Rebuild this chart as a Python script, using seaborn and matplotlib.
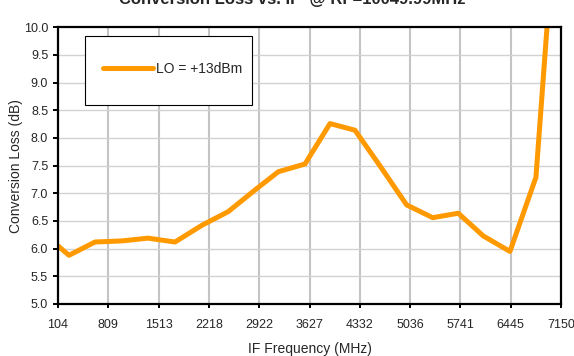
import matplotlib
matplotlib.use("Agg")
import matplotlib.pyplot as plt
from matplotlib.patches import Rectangle
import seaborn as sns
import pandas as pd

# IF frequency sweep (MHz) and measured conversion loss (dB)
if_freq_mhz = [104, 258, 622, 1000, 1365, 1743, 2117, 2490, 2863, 3190, 3564,
               3914, 4264, 4628, 4988, 5353, 5711, 6061, 6435, 6799, 6954]
conv_loss_db = [6.05, 5.88, 6.12, 6.14, 6.19, 6.12, 6.42, 6.67, 7.06, 7.39, 7.53,
                8.26, 8.14, 7.47, 6.79, 6.56, 6.64, 6.23, 5.95, 7.29, 10.0]

x_ticks = [104, 809, 1513, 2218, 2922, 3627, 4332, 5036, 5741, 6445, 7150]
y_ticks = [5.0, 5.5, 6.0, 6.5, 7.0, 7.5, 8.0, 8.5, 9.0, 9.5, 10.0]
series_label = "LO = +13dBm"
title = "Conversion Loss vs. IF  @ RF=10049.99MHz"

sns.set_style("white")
plt.rcParams["font.family"] = ["Liberation Sans", "DejaVu Sans"]

df = pd.DataFrame({"IF": if_freq_mhz, "Loss": conv_loss_db})

fig = plt.figure(figsize=(5.74, 3.56), dpi=100)
ax = fig.add_axes([58 / 574, 1 - 304 / 356, 503 / 574, 276.7 / 356])

sns.lineplot(data=df, x="IF", y="Loss", ax=ax, color="#FF9900",
             linewidth=3.6, label=series_label, zorder=5)

ax.set_xlim(x_ticks[0], x_ticks[-1])
ax.set_ylim(y_ticks[0], y_ticks[-1])
ax.set_xticks(x_ticks)
ax.set_xticklabels([str(t) for t in x_ticks])
ax.set_yticks(y_ticks)
ax.set_yticklabels([f"{t:.1f}" for t in y_ticks])

# grid: heavier vertical lines, lighter horizontal lines
ax.grid(False)
for xv in x_ticks[1:-1]:
    ax.axvline(xv, color="#c4c4c4", linewidth=1.5, zorder=1)
for yv in y_ticks[1:-1]:
    ax.axhline(yv, color="#d2d2d2", linewidth=1.0, zorder=1)

for side in ["left", "bottom", "top", "right"]:
    ax.spines[side].set_visible(True)
    ax.spines[side].set_color("black")
    ax.spines[side].set_linewidth(1.6)
    ax.spines[side].set_zorder(6)

ax.tick_params(axis="y", direction="out", length=3.6, width=1.4, pad=3.5,
               labelsize=9, color="black", left=True)
ax.tick_params(axis="x", direction="out", length=3.0, width=1.4, pad=7.5,
               labelsize=9, color="black", bottom=True)

ax.set_xlabel("IF Frequency (MHz)", fontsize=10, labelpad=8)
ax.set_ylabel("Conversion Loss (dB)", fontsize=10, labelpad=0.5)

# legend box
box = Rectangle((0.0537, 0.719), 0.332, 0.2496, transform=ax.transAxes,
                facecolor="white", edgecolor="black", linewidth=0.8, zorder=7)
ax.add_patch(box)
leg = ax.legend(loc="center left", bbox_to_anchor=(0.0895, 0.849),
                frameon=False, fontsize=10, handlelength=3.6,
                handletextpad=0.2, borderpad=0, borderaxespad=0)
leg.set_zorder(8)

fig.text(292 / 574, 1 - 4 / 356, title, ha="center", va="baseline",
         fontsize=12, fontweight="bold")

fig.savefig("out.png", dpi=100)
